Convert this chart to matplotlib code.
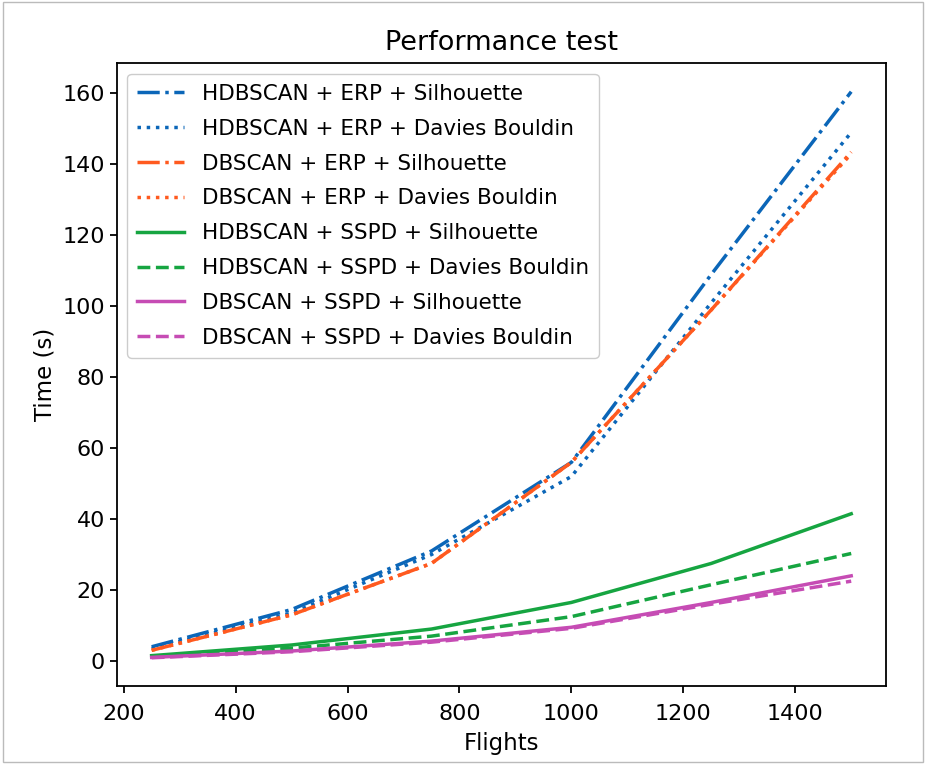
import matplotlib.pyplot as plt

flights = [250, 500, 750, 1000, 1250, 1500]

hdb_erp_sil = [4, 14.5, 31, 56, 109, 160.5]
hdb_erp_db = [3.5, 13.5, 30, 52, 101, 149]
db_erp_sil = [3, 13, 27.5, 56, 99, 143.5]
db_erp_db = [3, 13, 27.5, 56, 99, 143]
hdb_sspd_sil = [1.5, 4.5, 9, 16.5, 27.5, 41.5]
hdb_sspd_db = [1.3, 3.6, 7, 12.5, 21.5, 30.3]
db_sspd_sil = [1, 2.8, 5.6, 9.5, 16.5, 24]
db_sspd_db = [0.9, 2.6, 5.3, 9.2, 16, 22.5]

labels = [
    'HDBSCAN + ERP + Silhouette',
    'HDBSCAN + ERP + Davies Bouldin',
    'DBSCAN + ERP + Silhouette',
    'DBSCAN + ERP + Davies Bouldin',
    'HDBSCAN + SSPD + Silhouette',
    'HDBSCAN + SSPD + Davies Bouldin',
    'DBSCAN + SSPD + Silhouette',
    'DBSCAN + SSPD + Davies Bouldin',
]

blue = '#0b66b8'
orange = '#ff5a1f'
green = '#16a541'
pink = '#c64cb4'

series = [
    (hdb_erp_sil, blue, '-.'),
    (hdb_erp_db, blue, ':'),
    (db_erp_sil, orange, '-.'),
    (db_erp_db, orange, ':'),
    (hdb_sspd_sil, green, '-'),
    (hdb_sspd_db, green, '--'),
    (db_sspd_sil, pink, '-'),
    (db_sspd_db, pink, '--'),
]

plt.rcParams['font.size'] = 16

fig = plt.figure(figsize=(9.26, 7.64), dpi=100)
ax = fig.add_axes([0.126, 0.102, 0.831, 0.815])

for (vals, col, ls), lab in zip(series, labels):
    ax.plot(flights, vals, color=col, linestyle=ls, linewidth=2.5, label=lab)

ax.set_title('Performance test', fontsize=19.5, pad=10)
ax.set_xlabel('Flights', fontsize=16.5, labelpad=6)
ax.set_ylabel('Time (s)', fontsize=16.5)
ax.set_yticks(range(0, 161, 20))
ax.tick_params(labelsize=16, width=1.3, length=5)
ax.tick_params(axis='x', pad=8)
for s in ax.spines.values():
    s.set_linewidth(1.3)

ax.legend(loc='upper left', fontsize=15.5, handlelength=2.2, labelspacing=0.69,
          borderpad=0.45, framealpha=1, edgecolor='#cccccc')

fig.patches.append(plt.Rectangle((0.003, 0.003), 0.994, 0.994, transform=fig.transFigure,
                                 fill=False, edgecolor='#bbbbbb', linewidth=1))

fig.savefig('out.png', dpi=100)
